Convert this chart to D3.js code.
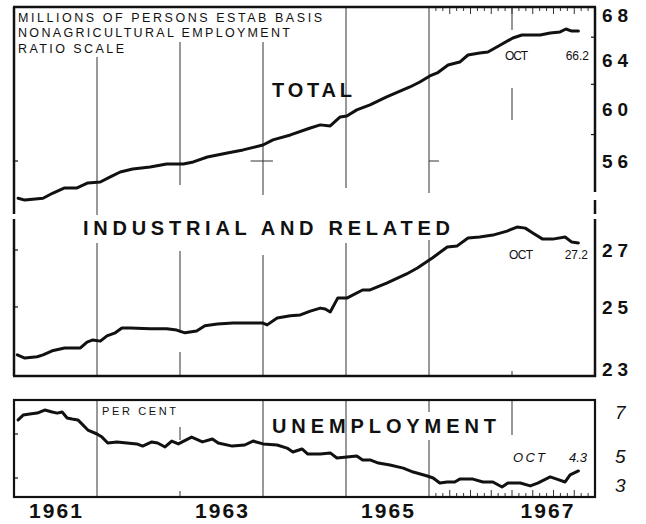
<!DOCTYPE html>
<html>
<head>
<meta charset="utf-8">
<script src="https://cdn.jsdelivr.net/npm/d3@7"></script>
<style>
  body { margin: 0; background: #fff; }
  svg { display: block; font-family: "Liberation Sans", Arial, sans-serif; }
</style>
</head>
<body>
<div id="chart"></div>
<script>
// data (decimal year, value)
var totalDates = [1961.05,1961.13,1961.35,1961.47,1961.61,1961.76,1961.89,1962.04,1962.16,1962.28,1962.43,1962.64,1962.84,1963.04,1963.16,1963.33,1963.57,1963.76,1964.00,1964.12,1964.33,1964.57,1964.69,1964.81,1964.93,1965.01,1965.13,1965.29,1965.49,1965.77,1965.89,1966.01,1966.10,1966.23,1966.37,1966.47,1966.61,1966.71,1966.86,1967.01,1967.12,1967.34,1967.46,1967.58,1967.65,1967.72,1967.80];
var totalValues = [53.3,53.17,53.3,53.67,54.03,54.03,54.39,54.46,54.83,55.19,55.41,55.56,55.78,55.78,55.93,56.30,56.60,56.83,57.20,57.59,57.97,58.51,58.75,58.67,59.37,59.45,59.93,60.33,60.97,61.78,62.19,62.69,62.94,63.61,63.86,64.46,64.63,64.71,65.32,65.93,66.19,66.19,66.37,66.46,66.72,66.54,66.54];

var industDates = [1961.04,1961.13,1961.28,1961.35,1961.46,1961.61,1961.71,1961.80,1961.88,1961.95,1962.04,1962.12,1962.22,1962.30,1962.40,1962.64,1962.84,1962.96,1963.06,1963.20,1963.30,1963.45,1963.64,1963.84,1964.00,1964.05,1964.17,1964.33,1964.45,1964.57,1964.69,1964.75,1964.81,1964.90,1965.01,1965.20,1965.29,1965.49,1965.73,1965.86,1966.04,1966.22,1966.34,1966.47,1966.61,1966.77,1966.94,1967.06,1967.16,1967.25,1967.37,1967.49,1967.64,1967.72,1967.80];
var industValues = [23.43,23.33,23.37,23.43,23.56,23.65,23.65,23.65,23.84,23.91,23.87,24.04,24.14,24.30,24.30,24.27,24.27,24.23,24.14,24.20,24.37,24.43,24.46,24.46,24.46,24.40,24.63,24.70,24.73,24.86,24.96,24.93,24.83,25.30,25.30,25.58,25.58,25.82,26.14,26.35,26.71,27.11,27.15,27.44,27.48,27.55,27.70,27.85,27.81,27.63,27.40,27.40,27.48,27.29,27.26];

var unempDates = [1961.05,1961.11,1961.19,1961.28,1961.37,1961.46,1961.52,1961.58,1961.64,1961.70,1961.77,1961.89,1962.00,1962.06,1962.13,1962.24,1962.36,1962.48,1962.55,1962.66,1962.73,1962.82,1962.90,1962.98,1963.14,1963.27,1963.39,1963.46,1963.63,1963.78,1963.88,1964.00,1964.17,1964.29,1964.36,1964.47,1964.54,1964.69,1964.81,1964.89,1965.01,1965.13,1965.20,1965.29,1965.39,1965.53,1965.69,1965.81,1965.98,1966.05,1966.13,1966.22,1966.31,1966.37,1966.53,1966.65,1966.77,1966.88,1966.95,1967.10,1967.22,1967.31,1967.46,1967.54,1967.64,1967.70,1967.80];
var unempValues = [6.64,6.86,6.91,6.95,7.09,7.0,6.95,7.0,6.73,6.68,6.64,6.18,6.0,5.86,5.59,5.64,5.59,5.55,5.45,5.64,5.59,5.41,5.68,5.55,5.86,5.64,5.77,5.59,5.45,5.5,5.68,5.55,5.5,5.36,5.18,5.32,5.09,5.09,5.14,4.91,4.95,5.0,4.82,4.82,4.68,4.59,4.45,4.27,4.09,4.0,3.77,3.82,3.82,3.95,3.95,3.82,3.82,3.59,3.77,3.77,3.64,3.77,4.05,3.95,3.82,4.14,4.32];

var years = [1961, 1962, 1963, 1964, 1965, 1966, 1967];
var yearLabels = [1961, 1963, 1965, 1967];
var totalTicks = [68, 64, 60, 56];
var industTicks = [27, 25, 23];
var unempTicks = [7, 5, 3];

var W = 646, H = 524;
var left = 14, right = 595;

var svg = d3.select("#chart").append("svg")
  .attr("width", W)
  .attr("height", H);

// scales: ratio (log) for employment, linear for unemployment
var x = d3.scaleLinear().domain([1961, 1968]).range([left, right]);
var yTotal = d3.scaleLog().domain([56, 68]).range([161.0, 14.7]);
var yInd = d3.scaleLog().domain([23, 27]).range([368.6, 250]);
var yUn = d3.scaleLinear().domain([3, 7]).range([500, 412]);

var ink = "#111";

function seg(x1, y1, x2, y2, w, col) {
  svg.append("line")
    .attr("x1", x1).attr("y1", y1).attr("x2", x2).attr("y2", y2)
    .attr("stroke", col || ink)
    .attr("stroke-width", w || 1);
}

// vertical year grid lines, broken like the printed original
var gridTop = [[57, 215], [42, 185], [42, 195], [7, 188], [7, 193], [7, 30, 88, 120]];
var gridMid = [[243, 376], [251, 333, 352, 376], [255, 376], [243, 376], [240, 376], [371, 376]];
var gridBot = [[400, 497], [427, 440, 491, 497], [400, 497], [400, 497], [400, 412, 440, 497], [400, 435]];
[gridTop, gridMid, gridBot].forEach(function (g) {
  g.forEach(function (s, i) {
    var gx = x(years[i + 1]);
    for (var k = 0; k < s.length; k += 2) seg(gx, s[k], gx, s[k + 1], 1, "#333");
  });
});
// little crosses in the total panel
seg(x(1963.85), yTotal(56), x(1964.12), yTotal(56), 1, "#333");
seg(x(1966), yTotal(56), x(1966.12), yTotal(56), 1, "#333");

// monthly ticks 1966-67
d3.range(1966 + 1 / 12, 1968, 1 / 12).forEach(function (t, i) {
  var len = (i % 3 === 2) ? 7 : 4;
  seg(x(t), 7, x(t), 7 + len, 1, "#333");
  seg(x(t), 497, x(t), 497 - len, 1, "#333");
});

// frames
seg(left - 1, 7, right + 1, 7, 2.5);
seg(left, 7, left, 214, 2.5);
seg(right, 7, right, 192, 2.5);
seg(right, 200, right, 214, 2.5);
seg(left, 219, left, 376, 2.5);
seg(right, 219, right, 377, 2.5);
seg(left - 1, 376, right + 1, 376, 2.5);
svg.append("rect")
  .attr("x", left).attr("y", 400)
  .attr("width", right - left).attr("height", 97)
  .attr("fill", "none").attr("stroke", ink).attr("stroke-width", 2.2);

// small axis ticks
seg(left, yTotal(56), left + 4, yTotal(56), 1.2);
[66, 62, 58].forEach(function (v) { seg(right - 4, yTotal(v), right, yTotal(v), 1.2); });
[27, 25].forEach(function (v) { seg(left, yInd(v), left + 4, yInd(v), 1.2); });
[6, 4].forEach(function (v) { seg(left, yUn(v), left + 4, yUn(v), 1.2); });

// the three series
function drawLine(dates, values, y) {
  var pts = dates.map(function (d, i) { return [d, values[i]]; });
  svg.append("path")
    .datum(pts)
    .attr("fill", "none")
    .attr("stroke", ink)
    .attr("stroke-width", 3)
    .attr("stroke-linejoin", "round")
    .attr("stroke-linecap", "round")
    .attr("d", d3.line().x(function (d) { return x(d[0]); }).y(function (d) { return y(d[1]); }));
}
drawLine(totalDates, totalValues, yTotal);
drawLine(industDates, industValues, yInd);
drawLine(unempDates, unempValues, yUn);

// text helper
function label(txt, tx, ty, size, opts) {
  opts = opts || {};
  var t = svg.append("text")
    .attr("x", tx).attr("y", ty)
    .attr("fill", ink)
    .style("font-size", size + "px")
    .style("font-weight", opts.bold ? "bold" : "normal")
    .style("font-style", opts.italic ? "italic" : "normal")
    .attr("text-anchor", opts.anchor || "start")
    .text(txt);
  if (opts.len) t.attr("textLength", opts.len).attr("lengthAdjust", "spacing");
  return t;
}

label("MILLIONS OF PERSONS  ESTAB  BASIS", 18, 22, 12.5, {len: 304});
label("NONAGRICULTURAL EMPLOYMENT", 18, 37, 12.5, {len: 272});
label("RATIO SCALE", 18, 53, 12.5, {len: 106});

label("TOTAL", 272, 97, 20, {bold: true, len: 80});
label("INDUSTRIAL AND RELATED", 83, 235, 20, {bold: true, len: 367});
label("UNEMPLOYMENT", 272, 433, 20, {bold: true, len: 224});
label("PER CENT", 102, 415, 11, {len: 74});

// latest-value notes
label("OCT", 505, 60, 12, {len: 23});
label("66.2", 589, 60, 12, {anchor: "end"});
label("OCT", 509, 259, 12, {len: 24});
label("27.2", 588, 259, 12, {anchor: "end"});
label("OCT", 513, 462, 13, {italic: true, len: 32});
label("4.3", 587, 462, 13, {italic: true, anchor: "end"});

// right-hand scale labels
totalTicks.forEach(function (v) {
  label(v, 602, yTotal(v) + 7, 19, {bold: true, len: 26});
});
industTicks.forEach(function (v) {
  label(v, 602, yInd(v) + 7, 19, {bold: true, len: 26});
});
unempTicks.forEach(function (v) {
  label(v, 615, Math.min(yUn(v), 485) + 7, 19, {italic: true});
});

// year labels under the bottom panel
yearLabels.forEach(function (yr) {
  var cx = Math.min(x(yr + 0.5), right - 48);
  label(yr, cx - 26.5, 518, 21, {bold: true, len: 53});
});
</script>
</body>
</html>
